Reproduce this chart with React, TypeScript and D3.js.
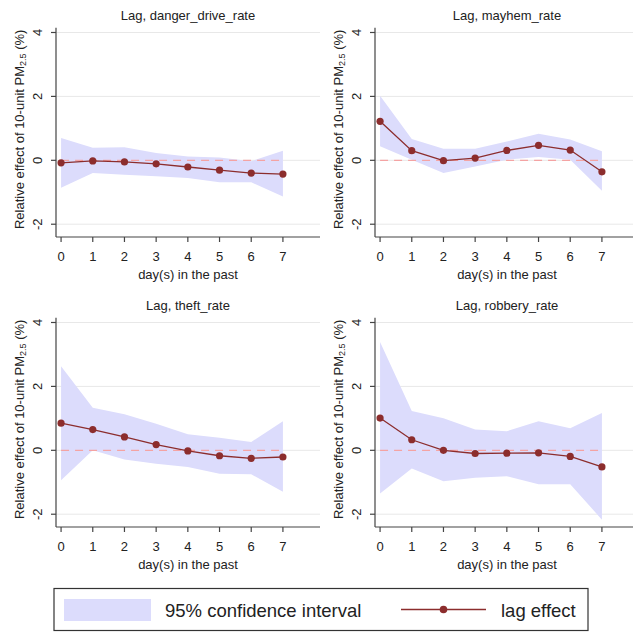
import { useRef, useEffect } from "react";
import * as d3 from "d3";

const lags = [0, 1, 2, 3, 4, 5, 6, 7];
const yTicks = [-2, 0, 2, 4];

const panelTitles = ["Lag, danger_drive_rate", "Lag, mayhem_rate", "Lag, theft_rate", "Lag, robbery_rate"];

const dangerEst = [-0.08, -0.02, -0.05, -0.11, -0.21, -0.31, -0.4, -0.43];
const dangerLo = [-0.86, -0.4, -0.45, -0.5, -0.55, -0.69, -0.69, -1.13];
const dangerHi = [0.7, 0.39, 0.41, 0.23, 0.12, 0.09, -0.03, 0.3];

const mayhemEst = [1.22, 0.3, -0.01, 0.07, 0.31, 0.47, 0.32, -0.36];
const mayhemLo = [0.44, 0.02, -0.4, -0.19, 0.02, 0.1, 0.02, -0.95];
const mayhemHi = [2.02, 0.67, 0.36, 0.36, 0.59, 0.83, 0.65, 0.28];

const theftEst = [0.85, 0.65, 0.42, 0.18, -0.02, -0.17, -0.25, -0.21];
const theftLo = [-0.94, 0.0, -0.29, -0.42, -0.52, -0.73, -0.75, -1.3];
const theftHi = [2.63, 1.33, 1.13, 0.83, 0.5, 0.39, 0.26, 0.91];

const robberyEst = [1.01, 0.33, 0.0, -0.1, -0.09, -0.08, -0.19, -0.52];
const robberyLo = [-1.35, -0.57, -0.97, -0.86, -0.81, -1.06, -1.06, -2.17];
const robberyHi = [3.39, 1.23, 1.0, 0.65, 0.6, 0.91, 0.69, 1.17];

const legendLabels = ["95% confidence interval", "lag effect"];

const FONT = "'Liberation Sans', Arial, sans-serif";
const BAND = "#dcdcfc";
const LINE = "#8c2d2d";
const DASH = "#f4a3a3";
const AXIS = "#444";
const GRID = "#e8e8e8";

const App = () => {
  const svgRef = useRef<SVGSVGElement>(null);

  useEffect(() => {
    const svg = d3.select(svgRef.current);
    svg.selectAll("*").remove();

    const series = [
      { est: dangerEst, lo: dangerLo, hi: dangerHi },
      { est: mayhemEst, lo: mayhemLo, hi: mayhemHi },
      { est: theftEst, lo: theftLo, hi: theftHi },
      { est: robberyEst, lo: robberyLo, hi: robberyHi },
    ];
    const offsets = [
      [0, 0],
      [319, 0],
      [0, 290],
      [319, 290],
    ];

    const plotLeft = 56;
    const plotRight = 320;
    const plotTop = 27.7;
    const plotBottom = 237;

    const x = d3.scaleLinear().domain([-0.16, 8.17]).range([plotLeft, plotRight]);
    const y = d3.scaleLinear().domain([-2.4, 4.15]).range([plotBottom, plotTop]);

    series.forEach((s, i) => {
      const [ox, oy] = offsets[i];
      const g = svg.append("g").attr("transform", `translate(${ox},${oy})`);
      const rows = lags.map((l, j) => ({ lag: l, est: s.est[j], lo: s.lo[j], hi: s.hi[j] }));

      // grid
      g.selectAll(".grid")
        .data(yTicks)
        .enter()
        .append("line")
        .attr("x1", plotLeft)
        .attr("x2", plotRight)
        .attr("y1", (d) => y(d))
        .attr("y2", (d) => y(d))
        .attr("stroke", GRID)
        .attr("stroke-width", 1);

      // band
      const area = d3
        .area<any>()
        .x((d) => x(d.lag))
        .y0((d) => y(d.lo))
        .y1((d) => y(d.hi));
      g.append("path").datum(rows).attr("fill", BAND).attr("d", area);

      // zero reference
      g.append("line")
        .attr("x1", x(lags[0]))
        .attr("x2", x(lags[lags.length - 1]))
        .attr("y1", y(0))
        .attr("y2", y(0))
        .attr("stroke", DASH)
        .attr("stroke-width", 1.2)
        .attr("stroke-dasharray", "8,6");

      // line + markers
      const line = d3
        .line<any>()
        .x((d) => x(d.lag))
        .y((d) => y(d.est));
      g.append("path").datum(rows).attr("fill", "none").attr("stroke", LINE).attr("stroke-width", 1.3).attr("d", line);
      g.selectAll(".dot")
        .data(rows)
        .enter()
        .append("circle")
        .attr("cx", (d) => x(d.lag))
        .attr("cy", (d) => y(d.est))
        .attr("r", 3.6)
        .attr("fill", LINE);

      // y axis
      g.append("line")
        .attr("x1", plotLeft)
        .attr("x2", plotLeft)
        .attr("y1", plotTop)
        .attr("y2", plotBottom)
        .attr("stroke", AXIS)
        .attr("stroke-width", 1.2);
      g.selectAll(".ytick")
        .data(yTicks)
        .enter()
        .append("line")
        .attr("x1", plotLeft - 5)
        .attr("x2", plotLeft)
        .attr("y1", (d) => y(d))
        .attr("y2", (d) => y(d))
        .attr("stroke", AXIS)
        .attr("stroke-width", 1.2);
      g.selectAll(".ylab")
        .data(yTicks)
        .enter()
        .append("text")
        .attr("transform", (d) => `translate(${plotLeft - 14},${y(d)}) rotate(-90)`)
        .attr("text-anchor", "middle")
        .style("font-family", FONT)
        .style("font-size", "13px")
        .style("fill", "#222")
        .text((d) => String(d));

      const yTitle = g
        .append("text")
        .attr("transform", `translate(${plotLeft - 32.5},${(plotTop + plotBottom) / 2 - 3}) rotate(-90)`)
        .attr("text-anchor", "middle")
        .style("font-family", FONT)
        .style("font-size", "13px")
        .style("fill", "#222");
      yTitle.append("tspan").text("Relative effect of 10-unit PM");
      yTitle.append("tspan").attr("font-size", "9px").attr("dy", 2).text("2.5");
      yTitle.append("tspan").attr("dy", -2).text(" (%)");

      // x axis
      g.append("line")
        .attr("x1", plotLeft)
        .attr("x2", plotRight)
        .attr("y1", plotBottom)
        .attr("y2", plotBottom)
        .attr("stroke", AXIS)
        .attr("stroke-width", 1.2);
      g.selectAll(".xtick")
        .data(lags)
        .enter()
        .append("line")
        .attr("x1", (d) => x(d))
        .attr("x2", (d) => x(d))
        .attr("y1", plotBottom)
        .attr("y2", plotBottom + 5)
        .attr("stroke", AXIS)
        .attr("stroke-width", 1.2);
      g.selectAll(".xlab")
        .data(lags)
        .enter()
        .append("text")
        .attr("x", (d) => x(d))
        .attr("y", 261)
        .attr("text-anchor", "middle")
        .style("font-family", FONT)
        .style("font-size", "13px")
        .style("fill", "#222")
        .text((d) => String(d));
      g.append("text")
        .attr("x", (plotLeft + plotRight) / 2)
        .attr("y", 279)
        .attr("text-anchor", "middle")
        .style("font-family", FONT)
        .style("font-size", "13px")
        .style("fill", "#222")
        .text("day(s) in the past");

      // title
      g.append("text")
        .attr("x", (plotLeft + plotRight) / 2)
        .attr("y", 19.5)
        .attr("text-anchor", "middle")
        .style("font-family", FONT)
        .style("font-size", "13px")
        .style("fill", "#222")
        .text(panelTitles[i]);
    });

    // legend
    const lg = svg.append("g");
    lg.append("rect")
      .attr("x", 54)
      .attr("y", 588.5)
      .attr("width", 534)
      .attr("height", 42)
      .attr("fill", "#fff")
      .attr("stroke", "#333")
      .attr("stroke-width", 1.2);
    lg.append("rect").attr("x", 64).attr("y", 599).attr("width", 87).attr("height", 22).attr("fill", BAND);
    lg.append("text")
      .attr("x", 165)
      .attr("y", 616.5)
      .style("font-family", FONT)
      .style("font-size", "18.5px")
      .style("fill", "#222")
      .text(legendLabels[0]);
    lg.append("line")
      .attr("x1", 401)
      .attr("x2", 486)
      .attr("y1", 609.5)
      .attr("y2", 609.5)
      .attr("stroke", LINE)
      .attr("stroke-width", 1.3);
    lg.append("circle").attr("cx", 443.5).attr("cy", 609.5).attr("r", 3.8).attr("fill", LINE);
    lg.append("text")
      .attr("x", 501)
      .attr("y", 616.5)
      .style("font-family", FONT)
      .style("font-size", "18.5px")
      .style("fill", "#222")
      .text(legendLabels[1]);
  }, []);

  return (
    <div style={{ position: "absolute", left: 0, top: 0 }}>
      <svg ref={svgRef} width={633} height={633} style={{ display: "block", background: "#fff" }}></svg>
    </div>
  );
};

export default App;
